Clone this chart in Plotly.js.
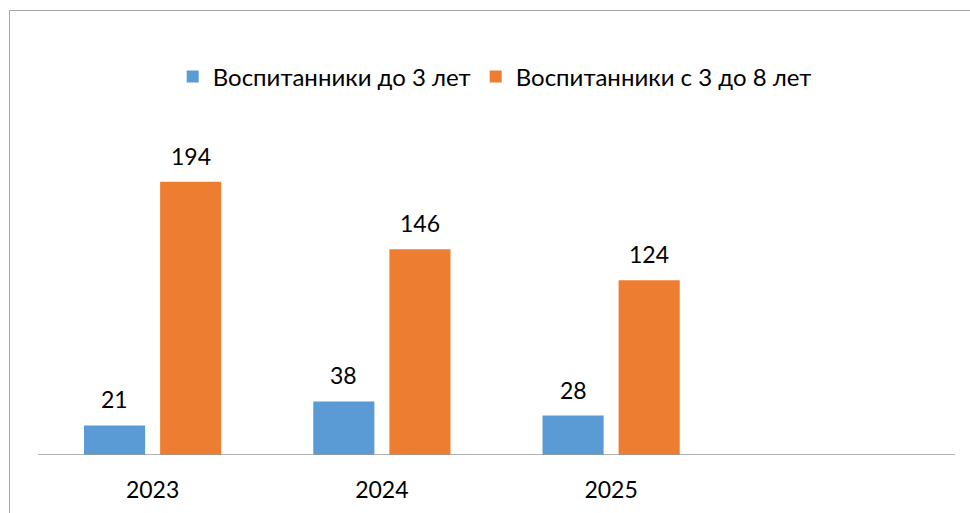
<!DOCTYPE html>
<html><head><meta charset="utf-8">
<script src="https://cdn.plot.ly/plotly-3.0.1.min.js"></script>
<style>html,body{margin:0;padding:0;background:#fff;overflow:hidden}
#frame{position:absolute;left:9px;top:10px;width:1000px;height:600px;border-left:1.5px solid #a6a6a6;border-top:1.5px solid #a6a6a6;pointer-events:none}
</style></head><body>
<div id="chart" style="width:970px;height:513px"></div>
<div id="frame"></div>
<script>
const years = ["2023", "2024", "2025"];
const under3 = [21, 38, 28];
const from3to8 = [194, 146, 124];
const seriesNames = ["Воспитанники до 3 лет", "Воспитанники с 3 до 8 лет"];

const xpos = years.map((_, i) => i);
const fam = "Lato, 'Open Sans', sans-serif";
const font = {family: fam, size: 23, color: "#000"};
const legFont = {family: fam, size: 24, color: "#000"};

const traces = [
  {type: "bar", name: seriesNames[0], x: xpos, y: under3, marker: {color: "#5B9BD5"}},
  {type: "bar", name: seriesNames[1], x: xpos, y: from3to8, marker: {color: "#ED7D31"}}
];

const annotations = [];
[[under3, -38], [from3to8, 38]].forEach(([vals, dx]) => {
  vals.forEach((v, i) => annotations.push({x: xpos[i], y: v, xref: "x", yref: "y", text: String(v),
    showarrow: false, yanchor: "bottom", xshift: dx, yshift: 10, font: font}));
});

const layout = {
  width: 970, height: 513,
  margin: {l: 38, r: 15, t: 145, b: 58},
  paper_bgcolor: "#fff", plot_bgcolor: "#fff",
  font: font,
  barmode: "group", bargap: 0.336, bargroupgap: 0.197,
  showlegend: true,
  legend: {orientation: "h", xref: "container", yref: "container", x: 0.51, xanchor: "center",
    y: 0.85, yanchor: "middle", font: legFont, itemwidth: 30, traceorder: "normal"},
  xaxis: {range: [-0.5, 3.5], tickvals: xpos, ticktext: years, showgrid: false, zeroline: false,
    showline: false, ticks: "", tickfont: font, ticklabelstandoff: 19, fixedrange: true},
  yaxis: {range: [0, 220], visible: false, fixedrange: true},
  annotations: annotations,
  shapes: [{type: "line", xref: "paper", yref: "y", x0: 0, x1: 1, y0: 0, y1: 0,
    line: {color: "#999", width: 1.5}}]
};
Plotly.newPlot("chart", traces, layout, {displayModeBar: false, staticPlot: true});
</script></body></html>
